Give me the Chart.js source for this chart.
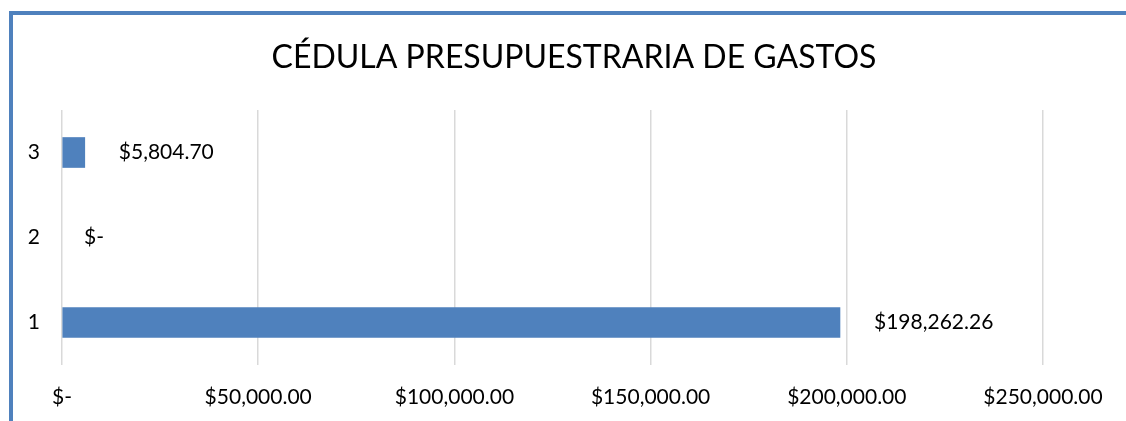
<!DOCTYPE html>
<html>
<head>
<meta charset="utf-8">
<script src="https://cdn.jsdelivr.net/npm/chart.js@4/dist/chart.umd.min.js"></script>
<style>
  html, body { margin: 0; padding: 0; background: #fff; }
  #wrap { width: 1126px; height: 421px; position: relative; }
</style>
</head>
<body>
<div id="wrap"><canvas id="gastosChart"></canvas></div>
<script>
const categories = ['1', '2', '3'];
const gastos = [198262.26, 0, 5804.70];
const xTicks = [0, 50000, 100000, 150000, 200000, 250000];
const chartTitle = 'CÉDULA PRESUPUESTRARIA DE GASTOS';

const FONT = 'Lato, "Open Sans", sans-serif';

function money(v) {
    if (v === 0) return '$-';
    return '$' + v.toLocaleString('en-US', { minimumFractionDigits: 2, maximumFractionDigits: 2 });
}

// marco azul + titulo
const framePlugin = {
    id: 'frame',
    beforeDraw(chart) {
        const ctx = chart.ctx;
        ctx.save();
        ctx.fillStyle = '#fff';
        ctx.fillRect(0, 0, chart.width, chart.height);
        ctx.fillStyle = '#4f81bd';
        ctx.fillRect(9, 11, chart.width - 9, 4);
        ctx.fillRect(9, 11, 4, chart.height - 11);
        ctx.fillStyle = '#000';
        ctx.font = '32px ' + FONT;
        ctx.textAlign = 'center';
        ctx.textBaseline = 'middle';
        ctx.fillText(chartTitle, 574, 58);
        ctx.restore();
    }
};

// etiquetas de valor
const labelPlugin = {
    id: 'valueLabels',
    afterDatasetsDraw(chart) {
        const ctx = chart.ctx;
        const meta = chart.getDatasetMeta(0);
        ctx.save();
        ctx.fillStyle = '#000';
        ctx.font = '21px ' + FONT;
        ctx.textAlign = 'left';
        ctx.textBaseline = 'middle';
        meta.data.forEach((bar, i) => {
            const v = gastos[i];
            const off = v === 0 ? 22 : 34;
            ctx.fillText(money(v), bar.x + off, bar.y);
        });
        ctx.restore();
    }
};

new Chart(document.getElementById('gastosChart'), {
    type: 'bar',
    data: {
        labels: categories,
        datasets: [{
            data: gastos,
            backgroundColor: c => c.raw === 0 ? 'rgba(0,0,0,0)' : '#4f81bd',
            borderWidth: 0,
            barThickness: 30
        }]
    },
    options: {
        indexAxis: 'y',
        responsive: true,
        maintainAspectRatio: false,
        animation: false,
        layout: { padding: { top: 110, right: 83, left: 0, bottom: 0 } },
        plugins: {
            legend: { display: false },
            title: { display: false },
            tooltip: { enabled: false }
        },
        scales: {
            x: {
                min: 0,
                max: 250000,
                afterBuildTicks(scale) {
                    scale.ticks = xTicks.map(v => ({ value: v }));
                },
                afterFit(scale) { scale.height = 56; },
                grid: { color: '#d9d9d9', lineWidth: 1.5, drawTicks: false },
                border: { display: false },
                ticks: {
                    padding: 20,
                    color: '#000',
                    font: { family: FONT, size: 21 },
                    maxRotation: 0,
                    callback: v => money(v)
                }
            },
            y: {
                reverse: true,
                afterFit(scale) { scale.width = 62; },
                grid: { display: false, drawTicks: false },
                border: { display: false },
                ticks: {
                    padding: 22,
                    color: '#000',
                    font: { family: FONT, size: 21 }
                }
            }
        }
    },
    plugins: [framePlugin, labelPlugin]
});
</script>
</body>
</html>
